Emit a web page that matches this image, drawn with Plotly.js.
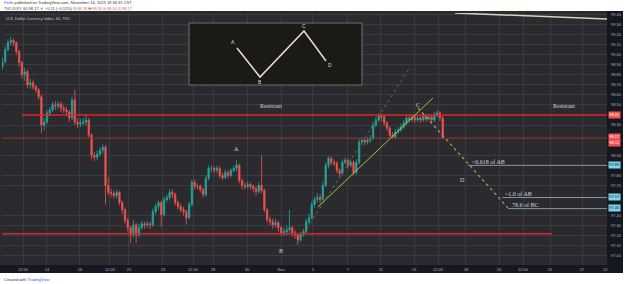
<!DOCTYPE html>
<html><head><meta charset="utf-8">
<script src="https://cdn.plot.ly/plotly-3.0.1.min.js"></script>
<style>html,body{margin:0;padding:0;background:#fff}#chart{width:625px;height:284px}</style>
</head><body><div id="chart"></div>
<script>
// ---- DATA (4-hour candles) ----
const openP = [98.88,98.93,99.05,99.12,99.14,99.12,99.03,98.92,98.80,98.83,
 98.70,98.72,98.68,98.65,98.58,98.30,98.33,98.42,98.45,98.50,
 98.49,98.51,98.47,98.45,98.43,98.37,98.55,98.33,98.31,98.32,
 98.33,98.35,98.20,98.00,97.98,98.01,98.05,98.08,97.70,97.63,
 97.62,97.60,97.63,97.53,97.46,97.35,97.28,97.21,97.31,97.21,
 97.28,97.32,97.31,97.32,97.31,97.44,97.49,97.53,97.41,97.56,
 97.58,97.63,97.61,97.53,97.49,97.46,97.44,97.38,97.51,97.73,
 97.69,97.69,97.66,97.61,97.77,97.87,97.87,97.85,97.87,97.80,
 97.78,97.83,97.80,97.85,97.87,97.90,97.75,97.70,97.69,97.71,
 97.69,97.67,97.64,97.70,97.65,97.46,97.36,97.34,97.31,97.33,
 97.28,97.23,97.24,97.26,97.28,97.23,97.21,97.16,97.21,97.24,
 97.34,97.38,97.51,97.56,97.58,97.56,97.70,97.90,97.97,97.93,
 97.92,97.85,97.82,97.93,97.95,97.90,97.93,97.83,97.93,98.13,
 98.15,98.13,98.15,98.17,98.30,98.35,98.39,98.38,98.32,98.27,
 98.20,98.18,98.23,98.25,98.28,98.32,98.37,98.35,98.38,98.35,
 98.37,98.35,98.39,98.36,98.38,98.35,98.40,98.42,98.37];
const highP = [98.97,99.08,99.15,99.18,99.16,99.13,99.05,98.94,98.87,98.85,
 98.76,98.75,98.70,98.67,98.60,98.37,98.45,98.48,98.53,98.54,
 98.54,98.53,98.50,98.48,98.45,98.58,98.65,98.37,98.36,98.37,
 98.41,98.37,98.22,98.03,98.05,98.08,98.11,98.10,97.78,97.67,
 97.65,97.66,97.65,97.55,97.48,97.38,97.30,97.36,97.33,97.32,
 97.35,97.34,97.35,97.34,97.47,97.52,97.55,97.55,97.59,97.61,
 97.66,97.66,97.63,97.55,97.52,97.49,97.46,97.54,97.76,97.76,
 97.72,97.71,97.68,97.80,97.90,97.90,97.89,97.90,97.89,97.83,
 97.86,97.85,97.87,97.90,97.95,97.92,97.77,97.73,97.74,97.73,
 97.71,97.69,97.73,98.00,97.67,97.48,97.39,97.37,97.37,97.35,
 97.30,97.28,97.30,97.46,97.30,97.26,97.23,97.24,97.27,97.37,
 97.42,97.54,97.59,97.62,97.61,97.74,97.93,97.99,97.99,97.96,
 97.94,97.87,97.96,97.98,97.97,97.96,97.95,97.96,98.16,98.18,
 98.17,98.18,98.20,98.33,98.38,98.42,98.41,98.40,98.34,98.29,
 98.23,98.26,98.28,98.31,98.35,98.41,98.40,98.41,98.40,98.40,
 98.39,98.42,98.41,98.41,98.40,98.43,98.45,98.44,98.39];
const lowP = [98.85,98.91,99.03,99.09,99.08,99.00,98.88,98.76,98.74,98.67,
 98.66,98.65,98.62,98.55,98.22,98.25,98.31,98.39,98.43,98.45,
 98.46,98.43,98.42,98.39,98.33,98.35,98.30,98.27,98.28,98.29,
 98.30,98.17,97.96,97.94,97.95,97.99,98.02,97.51,97.60,97.58,
 97.57,97.57,97.50,97.42,97.32,97.24,97.13,97.18,97.13,97.18,
 97.26,97.27,97.28,97.27,97.29,97.41,97.46,97.29,97.39,97.53,
 97.55,97.57,97.50,97.46,97.43,97.40,97.31,97.36,97.49,97.66,
 97.66,97.63,97.58,97.59,97.75,97.83,97.82,97.82,97.77,97.75,
 97.76,97.77,97.78,97.83,97.84,97.72,97.66,97.66,97.67,97.66,
 97.63,97.60,97.62,97.62,97.43,97.33,97.30,97.27,97.28,97.24,
 97.20,97.20,97.21,97.23,97.19,97.17,97.11,97.14,97.19,97.22,
 97.31,97.36,97.48,97.53,97.52,97.54,97.68,97.87,97.90,97.89,
 97.82,97.78,97.80,97.91,97.87,97.88,97.80,97.81,97.91,98.10,
 98.10,98.11,98.12,98.15,98.28,98.33,98.34,98.29,98.24,98.17,
 98.16,98.16,98.21,98.23,98.26,98.30,98.32,98.33,98.32,98.33,
 98.32,98.33,98.33,98.34,98.32,98.33,98.38,98.34,98.16];
const closeP = [98.93,99.05,99.12,99.14,99.12,99.03,98.92,98.80,98.83,98.70,
 98.72,98.68,98.65,98.58,98.30,98.33,98.42,98.45,98.50,98.49,
 98.51,98.47,98.45,98.43,98.37,98.55,98.33,98.31,98.32,98.33,
 98.35,98.20,98.00,97.98,98.01,98.05,98.08,97.70,97.63,97.62,
 97.60,97.63,97.53,97.46,97.35,97.28,97.21,97.31,97.21,97.28,
 97.32,97.31,97.32,97.31,97.44,97.49,97.53,97.41,97.56,97.58,
 97.63,97.61,97.53,97.49,97.46,97.44,97.38,97.51,97.73,97.69,
 97.69,97.66,97.61,97.77,97.87,97.87,97.85,97.87,97.80,97.78,
 97.83,97.80,97.85,97.87,97.90,97.75,97.70,97.69,97.71,97.69,
 97.67,97.64,97.70,97.65,97.46,97.36,97.34,97.31,97.33,97.28,
 97.23,97.24,97.26,97.28,97.23,97.21,97.16,97.21,97.24,97.34,
 97.38,97.51,97.56,97.58,97.56,97.70,97.90,97.97,97.93,97.92,
 97.85,97.82,97.93,97.95,97.90,97.93,97.83,97.93,98.13,98.15,
 98.13,98.15,98.17,98.30,98.35,98.39,98.38,98.32,98.27,98.20,
 98.18,98.23,98.25,98.28,98.32,98.37,98.35,98.38,98.35,98.37,
 98.35,98.39,98.36,98.38,98.35,98.40,98.42,98.37,98.17];

// time-axis ticks (bar index positions) and labels
const tickPos  = [7.4,16,27.8,38.6,45.4,57.6,68.4,75.6,87.8,100,111.4,124,135.8,147.7,156.3,166.3,178.2,186.8,196.5,208];
const tickText = ['12:00','14','16','12:00','21','23','12:00','28','30','Nov','5','7','11','13','12:00','18','20','12:00','25','27'];
// price-axis ticks visible (others hidden behind the price tags)
const priceTicks = [97.0,97.1,97.2,97.3,97.4,97.7,97.8,98.0,98.3,98.5,98.6,98.7,98.8,98.9,99.0,99.1,99.2,99.3,99.4];

// drawn levels
const resistLevel = 98.40;
const lastLevel   = 98.17;
const supportLevel= 97.22;
const fibLevels   = [97.90, 97.58, 97.47];
const fibLabels   = ['~0.618 of AB', '~1.0 of AB', '78.6 of BC'];
const fibStart    = [167.1, 179.3, 181.4];

// ---- LAYOUT HELPERS (pixel -> paper) ----
const X = px => (px - 2) / 605;
const Y = py => (265 - py) / 252;

const barIdx = openP.map((_, i) => i);

const trace = {
  type: 'candlestick', x: barIdx, open: openP, high: highP, low: lowP, close: closeP,
  increasing: {line: {color: '#26a69a', width: 0.8}, fillcolor: '#26a69a'},
  decreasing: {line: {color: '#ef5350', width: 0.8}, fillcolor: '#ef5350'},
  whiskerwidth: 0, hoverinfo: 'skip', showlegend: false
};

const serif = 'Liberation Serif, DejaVu Serif, serif';
const sans = 'Liberation Sans, Arial, sans-serif';
const txt = '#d1d4dc';

const shapes = [
  {type:'rect', xref:'paper', yref:'paper', x0:X(0), x1:X(623), y0:Y(273), y1:Y(11), fillcolor:'#2a2a2f', line:{width:0}, layer:'below'},
  {type:'rect', xref:'paper', yref:'paper', x0:X(607), x1:X(623), y0:Y(273), y1:Y(11), fillcolor:'#151821', line:{width:0}, layer:'below'},
  {type:'rect', xref:'paper', yref:'paper', x0:X(0), x1:X(623), y0:Y(273), y1:Y(265), fillcolor:'#151821', line:{width:0}, layer:'below'},
  {type:'line', xref:'x', yref:'y', x0:7, x1:216.94, y0:resistLevel, y1:resistLevel, line:{color:'#e0262a', width:1.4}},
  {type:'line', xref:'paper', yref:'y', x0:0, x1:1, y0:lastLevel, y1:lastLevel, line:{color:'#9a3535', width:1}},
  {type:'line', xref:'x', yref:'y', x0:-0.14, x1:197.2, y0:supportLevel, y1:supportLevel, line:{color:'#d8262a', width:1.4}},
  {type:'line', xref:'x', yref:'y', x0:113.2, y0:97.486, x1:154.5, y1:98.569, line:{color:'#9cc43c', width:1}},
  {type:'line', xref:'x', yref:'y', x0:105.7, y0:97.119, x1:146.3, y1:98.877, line:{color:'#5f7038', width:1, dash:'dot'}},
  {type:'line', xref:'x', yref:'y', x0:149.1, y0:98.47, x1:181.4, y1:97.477, line:{color:'#a79d5a', width:1.2, dash:'dot'}},
  {type:'line', xref:'x', yref:'y', x0:162.4, y0:99.413, x1:216.94, y1:99.353, line:{color:'#d9d3bb', width:1.5}},
  {type:'rect', xref:'paper', yref:'paper', x0:X(189), x1:X(362), y0:Y(85), y1:Y(23), fillcolor:'#1c1a15', line:{color:'#707070', width:1}},
  {type:'path', xref:'paper', yref:'paper', path:`M ${X(237)} ${Y(48)} L ${X(260)} ${Y(77)} L ${X(304)} ${Y(31)} L ${X(326)} ${Y(61)}`, line:{color:'#e6dede', width:1.5}}
];
fibLevels.forEach((lv, k) => shapes.push({type:'line', xref:'x', yref:'y', x0:fibStart[k], x1:216.94, y0:lv, y1:lv, line:{color:'#8299a6', width:1}}));

const ann = (x, y, text, size, color, family, xanchor) => ({xref:'paper', yref:'paper', x:X(x), y:Y(y), text, showarrow:false,
  font:{size, color, family}, xanchor: xanchor || 'center', yanchor:'middle'});
const axLabel = (py, text, bg) => ({xref:'paper', yref:'paper', x:X(608), y:Y(py), text, showarrow:false, xanchor:'left', yanchor:'middle',
  font:{size:4, color: bg === '#ef5350' ? '#ffffff' : '#131722', family:sans}, bgcolor:bg, borderpad:0.3});

const annotations = [
  ann(2, 3, '<span style="color:#2962ff">Ferbi</span> published on TradingView.com, November 14, 2019 19:36:31 CST', 4, '#333', sans, 'left'),
  ann(2, 8, 'TVC:DXY, 60 98.17 <span style="color:#ef5350">▼</span> −0.11 (−0.11%) O:<span style="color:#ef5350">98.28</span> H:<span style="color:#ef5350">98.30</span> L:<span style="color:#ef5350">98.16</span> C:<span style="color:#ef5350">98.17</span>', 4, '#333', sans, 'left'),
  ann(4, 18, 'U.S. Dollar Currency Index, 60, TVC', 4, '#c8cad0', sans, 'left'),
  ann(2, 279, 'Created with <span style="color:#2962ff">TradingView</span>', 4, '#333', sans, 'left'),
  ann(271, 106, 'Resistant', 6, txt, serif),
  ann(564, 106, 'Resistant', 6, txt, serif),
  ann(236, 149, 'A', 6, txt, serif),
  ann(281, 251, 'B', 6, txt, serif),
  ann(418, 105, 'C', 6, txt, serif),
  ann(462, 180, 'D', 6, txt, serif),
  ann(470, 162, fibLabels[0], 6, txt, serif, 'left'),
  ann(503, 194, fibLabels[1], 6, txt, serif, 'left'),
  ann(510, 205, fibLabels[2], 6, txt, serif, 'left'),
  ann(233, 42, 'A', 5, '#d8d8d8', sans),
  ann(260, 82, 'B', 5, '#d8d8d8', sans),
  ann(304, 26, 'C', 5, '#d8d8d8', sans),
  ann(330, 65, 'D', 5, '#d8d8d8', sans),
  ann(605, 269, '12', 4, '#b2b5be', sans),
  axLabel(115, '98.41', '#ef5350'),
  axLabel(137, '98.17', '#ef5350'),
  axLabel(143, '98.12', '#ef5350'),
  axLabel(165, '97.89', '#7fd3ea'),
  axLabel(197, '97.57', '#7fd3ea'),
  axLabel(208, '97.46', '#7fd3ea')
];

const layout = {
  width: 625, height: 284,
  margin: {l: 2, r: 18, t: 13, b: 19},
  paper_bgcolor: '#ffffff', plot_bgcolor: '#2a2a2f',
  showlegend: false, hovermode: false,
  xaxis: {type:'linear', range:[-0.14, 216.94], rangeslider:{visible:false}, tickmode:'array', tickvals:tickPos, ticktext:tickText,
    showgrid:true, gridcolor:'#3b3c42', gridwidth:1, zeroline:false, showline:false, ticks:'',
    tickfont:{size:4, color:'#b2b5be', family:sans}, ticklabelstandoff:1, fixedrange:true},
  yaxis: {side:'right', range:[96.91, 99.413], tickmode:'array', tickvals:priceTicks, tickformat:'.2f',
    showgrid:true, gridcolor:'#3b3c42', gridwidth:1, zeroline:false, showline:false, ticks:'',
    tickfont:{size:4, color:'#b2b5be', family:sans}, ticklabelstandoff:3, fixedrange:true},
  shapes, annotations
};

Plotly.newPlot('chart', [trace], layout, {staticPlot:true, displayModeBar:false});
</script></body></html>
